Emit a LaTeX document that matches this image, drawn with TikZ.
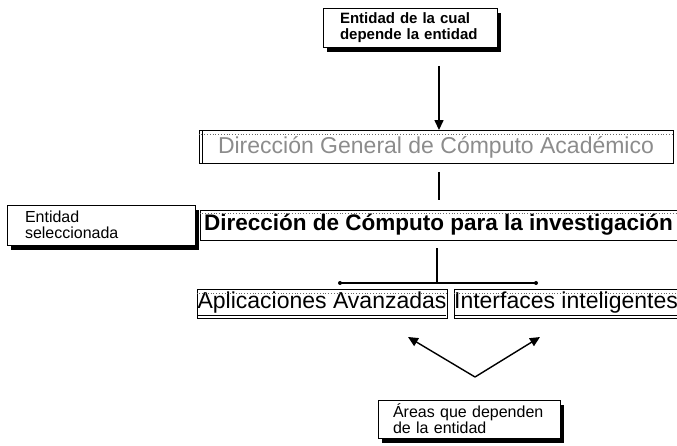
\documentclass[tikz,border=0pt]{standalone}
\usepackage{fontspec}
\setmainfont{Liberation Sans}
\usetikzlibrary{arrows.meta, positioning, shadows}
\tikzset{
  etiqueta/.style={
    rectangle, draw=black, line width=0.9pt, fill=white,
    text width=#1, align=left, inner ysep=3pt,
    font=\fontsize{16}{16}\selectfont,
    drop shadow={shadow xshift=4pt, shadow yshift=-5pt, fill=black, opacity=1}
  },
  bloque/.style={
    rectangle, draw=black, line width=0.9pt, inner sep=0pt,
    text centered, font=\fontsize{23}{25}\selectfont
  },
  flecha/.style={-{Triangle[length=10pt, width=9pt]}, line width=1.4pt},
  linea/.style={line width=1.8pt},
  punteado/.style={dotted, line width=0.8pt, draw=black!60},
}
\begin{document}
\begin{tikzpicture}[x=1pt, y=-1pt]
\useasboundingbox (0,0) rectangle (677,446);

% --- Entidades ---
\node[etiqueta=140pt, inner xsep=17pt, minimum height=39pt,
      font=\fontsize{15}{16}\selectfont\bfseries] (fuente) at (410,28)
  {Entidad de la cual\\depende la entidad};

\node[bloque, minimum width=474pt, minimum height=33pt, text=black!45] (gral) at (436,147)
  {Dirección General de Cómputo Académico};

\node[bloque, minimum width=477pt, minimum height=30pt, font=\fontsize{22.5}{24}\selectfont\bfseries] (inv) at (438.5,225)
  {Dirección de Cómputo para la investigación};

\node[etiqueta=152pt, inner xsep=18pt, minimum height=40pt] (sel) at (101,225)
  {Entidad\\seleccionada};

% --- Areas ---
\node[bloque, minimum width=250pt, minimum height=29pt] (apl) at (322,304)
  {\underline{Aplicaciones Avanzadas}};
\node[bloque, minimum width=218pt, minimum height=29pt] (intf) at (566,304)
  {\underline{Interfaces inteligentes}};

\node[etiqueta=152pt, inner xsep=15pt, minimum height=38pt] (areas) at (469,419)
  {Áreas que dependen\\de la entidad};

% --- Bordes punteados ---
\draw[punteado] ([yshift=-4pt]gral.north west) -- ([yshift=-4pt]gral.north east);
\draw[punteado] ([yshift=-4pt]inv.north west) -- ([yshift=-4pt]inv.north east);
\draw[punteado] ([yshift=-4pt]apl.north west) -- ([yshift=-4pt]apl.north east);
\draw[punteado] ([yshift=-4pt]intf.north west) -- ([yshift=-4pt]intf.north east);
\draw[line width=0.9pt] ([xshift=4pt]gral.north west) -- ([xshift=4pt]gral.south west);

% --- Conectores ---
\coordinate (inicio) at (439,66);
\draw[flecha] (inicio) -- (inicio |- gral.north);
\draw[linea, shorten <=8pt, shorten >=10pt] (gral.south -| inicio) -- (inv.north -| inicio);

\coordinate (rama) at (437,283);
\coordinate (ramaI) at (340,283);
\coordinate (ramaD) at (536,283);
\draw[linea, shorten <=8pt] (inv.south -| rama) -- (rama);
\draw[linea, line cap=round] (ramaI) -- (ramaD);
\fill (ramaI) circle (2pt);
\fill (ramaD) circle (2pt);

\coordinate (vertice) at (475,377);
\coordinate (puntaI) at (408,337);
\coordinate (puntaD) at (540,337);
\draw[flecha] (vertice) -- (puntaI);
\draw[flecha] (vertice) -- (puntaD);

\end{tikzpicture}
\end{document}
